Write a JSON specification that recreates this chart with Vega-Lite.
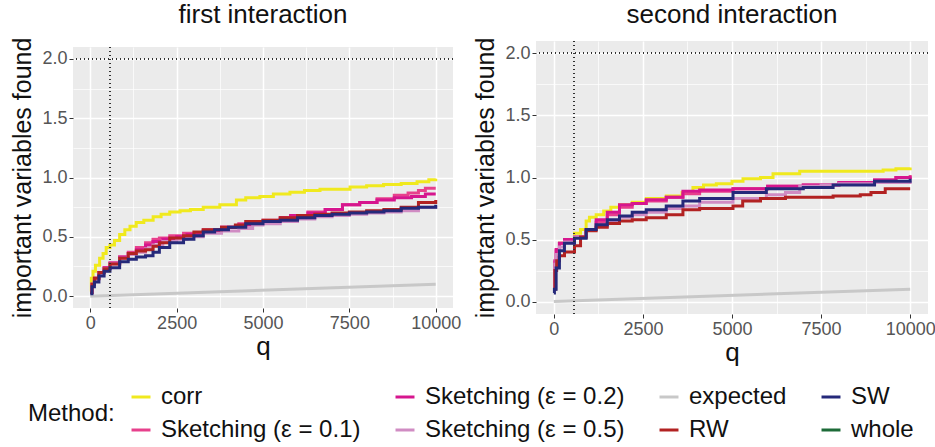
{
  "$schema": "https://vega.github.io/schema/vega-lite/v6.json",
  "padding": {"left": 10, "top": 2, "right": 5, "bottom": 5},
  "background": "white",
  "config": {
    "font": "Liberation Sans",
    "view": {"fill": "#EBEBEB", "stroke": null},
    "title": {"fontSize": 26, "fontWeight": "normal", "color": "#111", "offset": 9, "anchor": "middle"},
    "legend": {"symbolType": "stroke", "symbolStrokeWidth": 3, "symbolSize": 360, "labelFontSize": 24, "titleFontSize": 24, "titleFontWeight": "normal", "labelColor": "#111", "titleColor": "#111", "labelLimit": 400, "columnPadding": 28, "rowPadding": 9, "titleOrient": "left", "titleAnchor": "middle", "titlePadding": 14, "labelOffset": 8}
  },
  "datasets": {
    "d": [
      {"p":"first","m":"corr","q":0,"v":0.04},{"p":"first","m":"corr","q":30,"v":0.15},{"p":"first","m":"corr","q":80,"v":0.21},{"p":"first","m":"corr","q":150,"v":0.26},{"p":"first","m":"corr","q":270,"v":0.32},{"p":"first","m":"corr","q":370,"v":0.36},{"p":"first","m":"corr","q":460,"v":0.41},{"p":"first","m":"corr","q":570,"v":0.43},{"p":"first","m":"corr","q":700,"v":0.47},{"p":"first","m":"corr","q":850,"v":0.52},{"p":"first","m":"corr","q":1000,"v":0.56},{"p":"first","m":"corr","q":1150,"v":0.59},{"p":"first","m":"corr","q":1330,"v":0.62},{"p":"first","m":"corr","q":1550,"v":0.64},{"p":"first","m":"corr","q":1820,"v":0.67},{"p":"first","m":"corr","q":2050,"v":0.69},{"p":"first","m":"corr","q":2300,"v":0.71},{"p":"first","m":"corr","q":2600,"v":0.72},{"p":"first","m":"corr","q":2900,"v":0.73},{"p":"first","m":"corr","q":3270,"v":0.75},{"p":"first","m":"corr","q":3750,"v":0.77},{"p":"first","m":"corr","q":4230,"v":0.81},{"p":"first","m":"corr","q":4500,"v":0.83},{"p":"first","m":"corr","q":4910,"v":0.84},{"p":"first","m":"corr","q":5300,"v":0.86},{"p":"first","m":"corr","q":5780,"v":0.875},{"p":"first","m":"corr","q":6200,"v":0.89},{"p":"first","m":"corr","q":6650,"v":0.9},{"p":"first","m":"corr","q":7520,"v":0.92},{"p":"first","m":"corr","q":8000,"v":0.93},{"p":"first","m":"corr","q":8490,"v":0.94},{"p":"first","m":"corr","q":9000,"v":0.95},{"p":"first","m":"corr","q":9460,"v":0.965},{"p":"first","m":"corr","q":9800,"v":0.98},{"p":"first","m":"corr","q":10000,"v":0.99},

      {"p":"first","m":"Sketching (ε = 0.1)","q":0,"v":0.03},{"p":"first","m":"Sketching (ε = 0.1)","q":50,"v":0.1},{"p":"first","m":"Sketching (ε = 0.1)","q":120,"v":0.15},{"p":"first","m":"Sketching (ε = 0.1)","q":250,"v":0.2},{"p":"first","m":"Sketching (ε = 0.1)","q":400,"v":0.24},{"p":"first","m":"Sketching (ε = 0.1)","q":570,"v":0.28},{"p":"first","m":"Sketching (ε = 0.1)","q":850,"v":0.33},{"p":"first","m":"Sketching (ε = 0.1)","q":1100,"v":0.37},{"p":"first","m":"Sketching (ε = 0.1)","q":1334,"v":0.41},{"p":"first","m":"Sketching (ε = 0.1)","q":1600,"v":0.45},{"p":"first","m":"Sketching (ε = 0.1)","q":1816,"v":0.48},{"p":"first","m":"Sketching (ε = 0.1)","q":2000,"v":0.49},{"p":"first","m":"Sketching (ε = 0.1)","q":2300,"v":0.51},{"p":"first","m":"Sketching (ε = 0.1)","q":2700,"v":0.53},{"p":"first","m":"Sketching (ε = 0.1)","q":3270,"v":0.56},{"p":"first","m":"Sketching (ε = 0.1)","q":3800,"v":0.58},{"p":"first","m":"Sketching (ε = 0.1)","q":4300,"v":0.61},{"p":"first","m":"Sketching (ε = 0.1)","q":4700,"v":0.63},{"p":"first","m":"Sketching (ε = 0.1)","q":5000,"v":0.64},{"p":"first","m":"Sketching (ε = 0.1)","q":5500,"v":0.66},{"p":"first","m":"Sketching (ε = 0.1)","q":5800,"v":0.68},{"p":"first","m":"Sketching (ε = 0.1)","q":6300,"v":0.71},{"p":"first","m":"Sketching (ε = 0.1)","q":6800,"v":0.73},{"p":"first","m":"Sketching (ε = 0.1)","q":7300,"v":0.77},{"p":"first","m":"Sketching (ε = 0.1)","q":7800,"v":0.79},{"p":"first","m":"Sketching (ε = 0.1)","q":8300,"v":0.82},{"p":"first","m":"Sketching (ε = 0.1)","q":8800,"v":0.85},{"p":"first","m":"Sketching (ε = 0.1)","q":9200,"v":0.87},{"p":"first","m":"Sketching (ε = 0.1)","q":9500,"v":0.89},{"p":"first","m":"Sketching (ε = 0.1)","q":9700,"v":0.91},{"p":"first","m":"Sketching (ε = 0.1)","q":10000,"v":0.91},

      {"p":"first","m":"Sketching (ε = 0.2)","q":0,"v":0.03},{"p":"first","m":"Sketching (ε = 0.2)","q":50,"v":0.1},{"p":"first","m":"Sketching (ε = 0.2)","q":120,"v":0.15},{"p":"first","m":"Sketching (ε = 0.2)","q":250,"v":0.2},{"p":"first","m":"Sketching (ε = 0.2)","q":400,"v":0.24},{"p":"first","m":"Sketching (ε = 0.2)","q":570,"v":0.28},{"p":"first","m":"Sketching (ε = 0.2)","q":850,"v":0.33},{"p":"first","m":"Sketching (ε = 0.2)","q":1100,"v":0.36},{"p":"first","m":"Sketching (ε = 0.2)","q":1334,"v":0.39},{"p":"first","m":"Sketching (ε = 0.2)","q":1600,"v":0.43},{"p":"first","m":"Sketching (ε = 0.2)","q":1816,"v":0.46},{"p":"first","m":"Sketching (ε = 0.2)","q":2100,"v":0.48},{"p":"first","m":"Sketching (ε = 0.2)","q":2500,"v":0.5},{"p":"first","m":"Sketching (ε = 0.2)","q":2800,"v":0.52},{"p":"first","m":"Sketching (ε = 0.2)","q":3270,"v":0.55},{"p":"first","m":"Sketching (ε = 0.2)","q":3800,"v":0.58},{"p":"first","m":"Sketching (ε = 0.2)","q":4300,"v":0.6},{"p":"first","m":"Sketching (ε = 0.2)","q":4700,"v":0.62},{"p":"first","m":"Sketching (ε = 0.2)","q":5000,"v":0.63},{"p":"first","m":"Sketching (ε = 0.2)","q":5500,"v":0.66},{"p":"first","m":"Sketching (ε = 0.2)","q":5800,"v":0.68},{"p":"first","m":"Sketching (ε = 0.2)","q":6300,"v":0.7},{"p":"first","m":"Sketching (ε = 0.2)","q":6800,"v":0.73},{"p":"first","m":"Sketching (ε = 0.2)","q":7300,"v":0.77},{"p":"first","m":"Sketching (ε = 0.2)","q":7800,"v":0.79},{"p":"first","m":"Sketching (ε = 0.2)","q":8300,"v":0.81},{"p":"first","m":"Sketching (ε = 0.2)","q":8800,"v":0.83},{"p":"first","m":"Sketching (ε = 0.2)","q":9300,"v":0.84},{"p":"first","m":"Sketching (ε = 0.2)","q":9700,"v":0.86},{"p":"first","m":"Sketching (ε = 0.2)","q":10000,"v":0.86},

      {"p":"first","m":"Sketching (ε = 0.5)","q":0,"v":0.03},{"p":"first","m":"Sketching (ε = 0.5)","q":50,"v":0.1},{"p":"first","m":"Sketching (ε = 0.5)","q":120,"v":0.14},{"p":"first","m":"Sketching (ε = 0.5)","q":250,"v":0.19},{"p":"first","m":"Sketching (ε = 0.5)","q":400,"v":0.23},{"p":"first","m":"Sketching (ε = 0.5)","q":570,"v":0.27},{"p":"first","m":"Sketching (ε = 0.5)","q":850,"v":0.32},{"p":"first","m":"Sketching (ε = 0.5)","q":1100,"v":0.35},{"p":"first","m":"Sketching (ε = 0.5)","q":1334,"v":0.37},{"p":"first","m":"Sketching (ε = 0.5)","q":1600,"v":0.4},{"p":"first","m":"Sketching (ε = 0.5)","q":1816,"v":0.43},{"p":"first","m":"Sketching (ε = 0.5)","q":2100,"v":0.46},{"p":"first","m":"Sketching (ε = 0.5)","q":2500,"v":0.48},{"p":"first","m":"Sketching (ε = 0.5)","q":2800,"v":0.5},{"p":"first","m":"Sketching (ε = 0.5)","q":3270,"v":0.53},{"p":"first","m":"Sketching (ε = 0.5)","q":3800,"v":0.55},{"p":"first","m":"Sketching (ε = 0.5)","q":4300,"v":0.57},{"p":"first","m":"Sketching (ε = 0.5)","q":4700,"v":0.6},{"p":"first","m":"Sketching (ε = 0.5)","q":5000,"v":0.61},{"p":"first","m":"Sketching (ε = 0.5)","q":5500,"v":0.63},{"p":"first","m":"Sketching (ε = 0.5)","q":6000,"v":0.65},{"p":"first","m":"Sketching (ε = 0.5)","q":6500,"v":0.67},{"p":"first","m":"Sketching (ε = 0.5)","q":7000,"v":0.68},{"p":"first","m":"Sketching (ε = 0.5)","q":7500,"v":0.69},{"p":"first","m":"Sketching (ε = 0.5)","q":8000,"v":0.7},{"p":"first","m":"Sketching (ε = 0.5)","q":8500,"v":0.71},{"p":"first","m":"Sketching (ε = 0.5)","q":9000,"v":0.72},{"p":"first","m":"Sketching (ε = 0.5)","q":9500,"v":0.75},{"p":"first","m":"Sketching (ε = 0.5)","q":10000,"v":0.76},

      {"p":"first","m":"expected","q":0,"v":0},{"p":"first","m":"expected","q":10000,"v":0.1},

      {"p":"first","m":"RW","q":0,"v":0.03},{"p":"first","m":"RW","q":50,"v":0.1},{"p":"first","m":"RW","q":120,"v":0.15},{"p":"first","m":"RW","q":250,"v":0.2},{"p":"first","m":"RW","q":400,"v":0.23},{"p":"first","m":"RW","q":570,"v":0.27},{"p":"first","m":"RW","q":850,"v":0.32},{"p":"first","m":"RW","q":1100,"v":0.36},{"p":"first","m":"RW","q":1334,"v":0.38},{"p":"first","m":"RW","q":1600,"v":0.39},{"p":"first","m":"RW","q":1816,"v":0.42},{"p":"first","m":"RW","q":2000,"v":0.45},{"p":"first","m":"RW","q":2300,"v":0.49},{"p":"first","m":"RW","q":2700,"v":0.51},{"p":"first","m":"RW","q":3000,"v":0.54},{"p":"first","m":"RW","q":3270,"v":0.56},{"p":"first","m":"RW","q":3800,"v":0.58},{"p":"first","m":"RW","q":4200,"v":0.6},{"p":"first","m":"RW","q":4500,"v":0.63},{"p":"first","m":"RW","q":5000,"v":0.64},{"p":"first","m":"RW","q":5500,"v":0.66},{"p":"first","m":"RW","q":6000,"v":0.68},{"p":"first","m":"RW","q":6500,"v":0.69},{"p":"first","m":"RW","q":7000,"v":0.7},{"p":"first","m":"RW","q":7500,"v":0.71},{"p":"first","m":"RW","q":8000,"v":0.72},{"p":"first","m":"RW","q":8500,"v":0.73},{"p":"first","m":"RW","q":9000,"v":0.75},{"p":"first","m":"RW","q":9500,"v":0.79},{"p":"first","m":"RW","q":10000,"v":0.81},

      {"p":"first","m":"SW","q":0,"v":0.02},{"p":"first","m":"SW","q":50,"v":0.08},{"p":"first","m":"SW","q":120,"v":0.12},{"p":"first","m":"SW","q":250,"v":0.17},{"p":"first","m":"SW","q":400,"v":0.21},{"p":"first","m":"SW","q":570,"v":0.24},{"p":"first","m":"SW","q":850,"v":0.29},{"p":"first","m":"SW","q":1100,"v":0.31},{"p":"first","m":"SW","q":1334,"v":0.33},{"p":"first","m":"SW","q":1600,"v":0.34},{"p":"first","m":"SW","q":1816,"v":0.37},{"p":"first","m":"SW","q":2000,"v":0.41},{"p":"first","m":"SW","q":2300,"v":0.45},{"p":"first","m":"SW","q":2700,"v":0.48},{"p":"first","m":"SW","q":3000,"v":0.51},{"p":"first","m":"SW","q":3270,"v":0.54},{"p":"first","m":"SW","q":3600,"v":0.56},{"p":"first","m":"SW","q":4000,"v":0.58},{"p":"first","m":"SW","q":4500,"v":0.61},{"p":"first","m":"SW","q":5000,"v":0.63},{"p":"first","m":"SW","q":5500,"v":0.64},{"p":"first","m":"SW","q":6000,"v":0.66},{"p":"first","m":"SW","q":6500,"v":0.68},{"p":"first","m":"SW","q":7000,"v":0.69},{"p":"first","m":"SW","q":7500,"v":0.7},{"p":"first","m":"SW","q":8000,"v":0.71},{"p":"first","m":"SW","q":8500,"v":0.72},{"p":"first","m":"SW","q":9000,"v":0.74},{"p":"first","m":"SW","q":9500,"v":0.75},{"p":"first","m":"SW","q":10000,"v":0.77},

      {"p":"second","m":"corr","q":0,"v":0.1},{"p":"second","m":"corr","q":30,"v":0.3},{"p":"second","m":"corr","q":80,"v":0.42},{"p":"second","m":"corr","q":160,"v":0.47},{"p":"second","m":"corr","q":300,"v":0.5},{"p":"second","m":"corr","q":580,"v":0.55},{"p":"second","m":"corr","q":750,"v":0.58},{"p":"second","m":"corr","q":907,"v":0.65},{"p":"second","m":"corr","q":1000,"v":0.68},{"p":"second","m":"corr","q":1188,"v":0.7},{"p":"second","m":"corr","q":1400,"v":0.73},{"p":"second","m":"corr","q":1600,"v":0.76},{"p":"second","m":"corr","q":1843,"v":0.78},{"p":"second","m":"corr","q":2200,"v":0.8},{"p":"second","m":"corr","q":2593,"v":0.83},{"p":"second","m":"corr","q":3155,"v":0.85},{"p":"second","m":"corr","q":3600,"v":0.88},{"p":"second","m":"corr","q":3904,"v":0.92},{"p":"second","m":"corr","q":4200,"v":0.94},{"p":"second","m":"corr","q":4560,"v":0.95},{"p":"second","m":"corr","q":5000,"v":0.97},{"p":"second","m":"corr","q":5309,"v":0.99},{"p":"second","m":"corr","q":5800,"v":1.0},{"p":"second","m":"corr","q":6151,"v":1.03},{"p":"second","m":"corr","q":6900,"v":1.05},{"p":"second","m":"corr","q":8305,"v":1.05},{"p":"second","m":"corr","q":9241,"v":1.06},{"p":"second","m":"corr","q":9600,"v":1.07},{"p":"second","m":"corr","q":10000,"v":1.08},

      {"p":"second","m":"Sketching (ε = 0.1)","q":0,"v":0.1},{"p":"second","m":"Sketching (ε = 0.1)","q":30,"v":0.32},{"p":"second","m":"Sketching (ε = 0.1)","q":65,"v":0.41},{"p":"second","m":"Sketching (ε = 0.1)","q":157,"v":0.47},{"p":"second","m":"Sketching (ε = 0.1)","q":300,"v":0.5},{"p":"second","m":"Sketching (ε = 0.1)","q":580,"v":0.52},{"p":"second","m":"Sketching (ε = 0.1)","q":907,"v":0.58},{"p":"second","m":"Sketching (ε = 0.1)","q":1188,"v":0.64},{"p":"second","m":"Sketching (ε = 0.1)","q":1500,"v":0.7},{"p":"second","m":"Sketching (ε = 0.1)","q":1843,"v":0.76},{"p":"second","m":"Sketching (ε = 0.1)","q":2200,"v":0.79},{"p":"second","m":"Sketching (ε = 0.1)","q":2593,"v":0.81},{"p":"second","m":"Sketching (ε = 0.1)","q":3155,"v":0.84},{"p":"second","m":"Sketching (ε = 0.1)","q":3623,"v":0.87},{"p":"second","m":"Sketching (ε = 0.1)","q":4092,"v":0.89},{"p":"second","m":"Sketching (ε = 0.1)","q":5028,"v":0.91},{"p":"second","m":"Sketching (ε = 0.1)","q":6000,"v":0.93},{"p":"second","m":"Sketching (ε = 0.1)","q":7000,"v":0.94},{"p":"second","m":"Sketching (ε = 0.1)","q":8000,"v":0.96},{"p":"second","m":"Sketching (ε = 0.1)","q":9000,"v":0.98},{"p":"second","m":"Sketching (ε = 0.1)","q":9600,"v":1.0},{"p":"second","m":"Sketching (ε = 0.1)","q":10000,"v":1.02},

      {"p":"second","m":"Sketching (ε = 0.2)","q":0,"v":0.1},{"p":"second","m":"Sketching (ε = 0.2)","q":30,"v":0.33},{"p":"second","m":"Sketching (ε = 0.2)","q":65,"v":0.42},{"p":"second","m":"Sketching (ε = 0.2)","q":157,"v":0.47},{"p":"second","m":"Sketching (ε = 0.2)","q":300,"v":0.5},{"p":"second","m":"Sketching (ε = 0.2)","q":580,"v":0.52},{"p":"second","m":"Sketching (ε = 0.2)","q":907,"v":0.58},{"p":"second","m":"Sketching (ε = 0.2)","q":1188,"v":0.66},{"p":"second","m":"Sketching (ε = 0.2)","q":1500,"v":0.72},{"p":"second","m":"Sketching (ε = 0.2)","q":1843,"v":0.78},{"p":"second","m":"Sketching (ε = 0.2)","q":2200,"v":0.79},{"p":"second","m":"Sketching (ε = 0.2)","q":2593,"v":0.82},{"p":"second","m":"Sketching (ε = 0.2)","q":3155,"v":0.84},{"p":"second","m":"Sketching (ε = 0.2)","q":3623,"v":0.89},{"p":"second","m":"Sketching (ε = 0.2)","q":4092,"v":0.9},{"p":"second","m":"Sketching (ε = 0.2)","q":5028,"v":0.91},{"p":"second","m":"Sketching (ε = 0.2)","q":6000,"v":0.93},{"p":"second","m":"Sketching (ε = 0.2)","q":7000,"v":0.94},{"p":"second","m":"Sketching (ε = 0.2)","q":8000,"v":0.96},{"p":"second","m":"Sketching (ε = 0.2)","q":9000,"v":0.98},{"p":"second","m":"Sketching (ε = 0.2)","q":9600,"v":1.0},{"p":"second","m":"Sketching (ε = 0.2)","q":10000,"v":1.01},

      {"p":"second","m":"Sketching (ε = 0.5)","q":0,"v":0.1},{"p":"second","m":"Sketching (ε = 0.5)","q":30,"v":0.3},{"p":"second","m":"Sketching (ε = 0.5)","q":65,"v":0.38},{"p":"second","m":"Sketching (ε = 0.5)","q":157,"v":0.44},{"p":"second","m":"Sketching (ε = 0.5)","q":300,"v":0.48},{"p":"second","m":"Sketching (ε = 0.5)","q":580,"v":0.52},{"p":"second","m":"Sketching (ε = 0.5)","q":907,"v":0.58},{"p":"second","m":"Sketching (ε = 0.5)","q":1188,"v":0.61},{"p":"second","m":"Sketching (ε = 0.5)","q":1500,"v":0.65},{"p":"second","m":"Sketching (ε = 0.5)","q":1843,"v":0.68},{"p":"second","m":"Sketching (ε = 0.5)","q":2200,"v":0.7},{"p":"second","m":"Sketching (ε = 0.5)","q":2593,"v":0.72},{"p":"second","m":"Sketching (ε = 0.5)","q":3155,"v":0.75},{"p":"second","m":"Sketching (ε = 0.5)","q":3623,"v":0.77},{"p":"second","m":"Sketching (ε = 0.5)","q":4092,"v":0.8},{"p":"second","m":"Sketching (ε = 0.5)","q":5028,"v":0.83},{"p":"second","m":"Sketching (ε = 0.5)","q":5964,"v":0.86},{"p":"second","m":"Sketching (ε = 0.5)","q":6500,"v":0.88},{"p":"second","m":"Sketching (ε = 0.5)","q":6900,"v":0.93},{"p":"second","m":"Sketching (ε = 0.5)","q":7500,"v":0.94},{"p":"second","m":"Sketching (ε = 0.5)","q":8000,"v":0.95},{"p":"second","m":"Sketching (ε = 0.5)","q":9000,"v":0.96},{"p":"second","m":"Sketching (ε = 0.5)","q":10000,"v":0.97},

      {"p":"second","m":"expected","q":0,"v":0},{"p":"second","m":"expected","q":10000,"v":0.1},

      {"p":"second","m":"RW","q":0,"v":0.1},{"p":"second","m":"RW","q":30,"v":0.25},{"p":"second","m":"RW","q":80,"v":0.33},{"p":"second","m":"RW","q":157,"v":0.37},{"p":"second","m":"RW","q":300,"v":0.4},{"p":"second","m":"RW","q":580,"v":0.45},{"p":"second","m":"RW","q":750,"v":0.52},{"p":"second","m":"RW","q":907,"v":0.57},{"p":"second","m":"RW","q":1188,"v":0.6},{"p":"second","m":"RW","q":1500,"v":0.63},{"p":"second","m":"RW","q":1843,"v":0.65},{"p":"second","m":"RW","q":2200,"v":0.66},{"p":"second","m":"RW","q":2593,"v":0.675},{"p":"second","m":"RW","q":3155,"v":0.7},{"p":"second","m":"RW","q":3623,"v":0.74},{"p":"second","m":"RW","q":4092,"v":0.75},{"p":"second","m":"RW","q":5028,"v":0.77},{"p":"second","m":"RW","q":5300,"v":0.81},{"p":"second","m":"RW","q":5800,"v":0.83},{"p":"second","m":"RW","q":6500,"v":0.84},{"p":"second","m":"RW","q":7837,"v":0.85},{"p":"second","m":"RW","q":8600,"v":0.86},{"p":"second","m":"RW","q":8900,"v":0.88},{"p":"second","m":"RW","q":9300,"v":0.91},{"p":"second","m":"RW","q":10000,"v":0.91},

      {"p":"second","m":"SW","q":0,"v":0.07},{"p":"second","m":"SW","q":17,"v":0.1},{"p":"second","m":"SW","q":65,"v":0.27},{"p":"second","m":"SW","q":157,"v":0.41},{"p":"second","m":"SW","q":298,"v":0.47},{"p":"second","m":"SW","q":580,"v":0.51},{"p":"second","m":"SW","q":907,"v":0.58},{"p":"second","m":"SW","q":1188,"v":0.62},{"p":"second","m":"SW","q":1500,"v":0.66},{"p":"second","m":"SW","q":1843,"v":0.69},{"p":"second","m":"SW","q":2200,"v":0.72},{"p":"second","m":"SW","q":2593,"v":0.74},{"p":"second","m":"SW","q":3155,"v":0.77},{"p":"second","m":"SW","q":3623,"v":0.81},{"p":"second","m":"SW","q":4092,"v":0.83},{"p":"second","m":"SW","q":5028,"v":0.88},{"p":"second","m":"SW","q":5964,"v":0.91},{"p":"second","m":"SW","q":7000,"v":0.92},{"p":"second","m":"SW","q":7837,"v":0.94},{"p":"second","m":"SW","q":9000,"v":0.97},{"p":"second","m":"SW","q":10000,"v":0.99}
    ]
  },
  "data": {"name": "d"},
  "spacing": 12,
  "center": true,
  "hconcat": [
    {
      "width": 380, "height": 261,
      "title": "first interaction",
      "transform": [{"filter": "datum.p == 'first'"}],
      "layer": [
        {
          "transform": [{"filter": "datum.m == 'expected'"}],
          "mark": {"type": "line", "strokeWidth": 3, "interpolate": "linear"},
          "encoding": {
            "x": {"field": "q", "type": "quantitative", "scale": {"domain": [-500, 10500], "nice": false, "zero": false},
                  "axis": {"orient": "bottom", "values": [1250, 3750, 6250, 8750], "grid": true, "gridColor": "white", "gridWidth": 0.7, "labels": false, "ticks": false, "domain": false, "title": null}},
            "y": {"field": "v", "type": "quantitative", "scale": {"domain": [-0.1, 2.1], "nice": false, "zero": false},
                  "axis": {"orient": "left", "values": [0.25, 0.75, 1.25, 1.75], "grid": true, "gridColor": "white", "gridWidth": 0.7, "labels": false, "ticks": false, "domain": false, "title": null}},
            "color": {"field": "m", "type": "nominal",
                      "scale": {"domain": ["corr", "Sketching (ε = 0.2)", "expected", "SW", "Sketching (ε = 0.1)", "Sketching (ε = 0.5)", "RW", "whole"],
                                "range": ["#F0E91E", "#D6168E", "#C8C8C8", "#25297A", "#E7408C", "#D08CC3", "#B22222", "#1D6B38"]},
                      "legend": {"title": "Method:", "orient": "none", "legendX": -45, "legendY": 344, "columns": 4, "direction": "horizontal"}}
          }
        },
        {
          "transform": [{"filter": "datum.m != 'expected'"}],
          "mark": {"type": "line", "strokeWidth": 3, "interpolate": "step-after"},
          "encoding": {
            "x": {"field": "q", "type": "quantitative",
                  "axis": {"orient": "bottom", "values": [0, 2500, 5000, 7500, 10000], "format": "d", "grid": true, "gridColor": "white", "gridWidth": 1.5, "domain": false, "tickColor": "#333", "tickSize": 4, "labelFontSize": 18, "labelColor": "#555", "labelPadding": 2, "title": "q", "titleFontSize": 26, "titleFontWeight": "normal", "titleColor": "#111", "titlePadding": 1}},
            "y": {"field": "v", "type": "quantitative",
                  "axis": {"orient": "left", "values": [0, 0.5, 1, 1.5, 2], "format": ".1f", "grid": true, "gridColor": "white", "gridWidth": 1.5, "domain": false, "tickColor": "#333", "tickSize": 4, "labelFontSize": 18, "labelColor": "#555", "labelPadding": 2, "title": "important variables found", "titleFontSize": 25, "titleFontWeight": "normal", "titleColor": "#111", "titlePadding": 6}},
            "color": {"field": "m", "type": "nominal",
                      "legend": {"title": "Method:", "orient": "none", "legendX": -45, "legendY": 344, "columns": 4, "direction": "horizontal"}}
          }
        },
        {
          "mark": {"type": "rule", "color": "#333", "strokeWidth": 1.1, "strokeDash": [1, 3]},
          "encoding": {"y": {"datum": 2, "type": "quantitative", "axis": null}}
        },
        {
          "mark": {"type": "rule", "color": "#333", "strokeWidth": 1.1, "strokeDash": [1, 3]},
          "encoding": {"x": {"datum": 570, "type": "quantitative", "axis": null}}
        }
      ],
      "resolve": {"axis": {"x": "independent", "y": "independent"}}
    },
    {
      "width": 392, "height": 273,
      "title": "second interaction",
      "transform": [{"filter": "datum.p == 'second'"}],
      "layer": [
        {
          "transform": [{"filter": "datum.m == 'expected'"}],
          "mark": {"type": "line", "strokeWidth": 3, "interpolate": "linear"},
          "encoding": {
            "x": {"field": "q", "type": "quantitative", "scale": {"domain": [-500, 10500], "nice": false, "zero": false},
                  "axis": {"orient": "bottom", "values": [1250, 3750, 6250, 8750], "grid": true, "gridColor": "white", "gridWidth": 0.7, "labels": false, "ticks": false, "domain": false, "title": null}},
            "y": {"field": "v", "type": "quantitative", "scale": {"domain": [-0.1, 2.1], "nice": false, "zero": false},
                  "axis": {"orient": "left", "values": [0.25, 0.75, 1.25, 1.75], "grid": true, "gridColor": "white", "gridWidth": 0.7, "labels": false, "ticks": false, "domain": false, "title": null}},
            "color": {"field": "m", "type": "nominal",
                      "legend": {"title": "Method:", "orient": "none", "legendX": -45, "legendY": 344, "columns": 4, "direction": "horizontal"}}
          }
        },
        {
          "transform": [{"filter": "datum.m != 'expected'"}],
          "mark": {"type": "line", "strokeWidth": 3, "interpolate": "step-after"},
          "encoding": {
            "x": {"field": "q", "type": "quantitative",
                  "axis": {"orient": "bottom", "values": [0, 2500, 5000, 7500, 10000], "format": "d", "grid": true, "gridColor": "white", "gridWidth": 1.5, "domain": false, "tickColor": "#333", "tickSize": 4, "labelFontSize": 18, "labelColor": "#555", "labelPadding": 2, "title": "q", "titleFontSize": 26, "titleFontWeight": "normal", "titleColor": "#111", "titlePadding": 1}},
            "y": {"field": "v", "type": "quantitative",
                  "axis": {"orient": "left", "values": [0, 0.5, 1, 1.5, 2], "format": ".1f", "grid": true, "gridColor": "white", "gridWidth": 1.5, "domain": false, "tickColor": "#333", "tickSize": 4, "labelFontSize": 18, "labelColor": "#555", "labelPadding": 2, "title": "important variables found", "titleFontSize": 25, "titleFontWeight": "normal", "titleColor": "#111", "titlePadding": 6}},
            "color": {"field": "m", "type": "nominal",
                      "legend": {"title": "Method:", "orient": "none", "legendX": -45, "legendY": 344, "columns": 4, "direction": "horizontal"}}
          }
        },
        {
          "mark": {"type": "rule", "color": "#333", "strokeWidth": 1.1, "strokeDash": [1, 3]},
          "encoding": {"y": {"datum": 2, "type": "quantitative", "axis": null}}
        },
        {
          "mark": {"type": "rule", "color": "#333", "strokeWidth": 1.1, "strokeDash": [1, 3]},
          "encoding": {"x": {"datum": 570, "type": "quantitative", "axis": null}}
        }
      ],
      "resolve": {"axis": {"x": "independent", "y": "independent"}}
    }
  ]
}
